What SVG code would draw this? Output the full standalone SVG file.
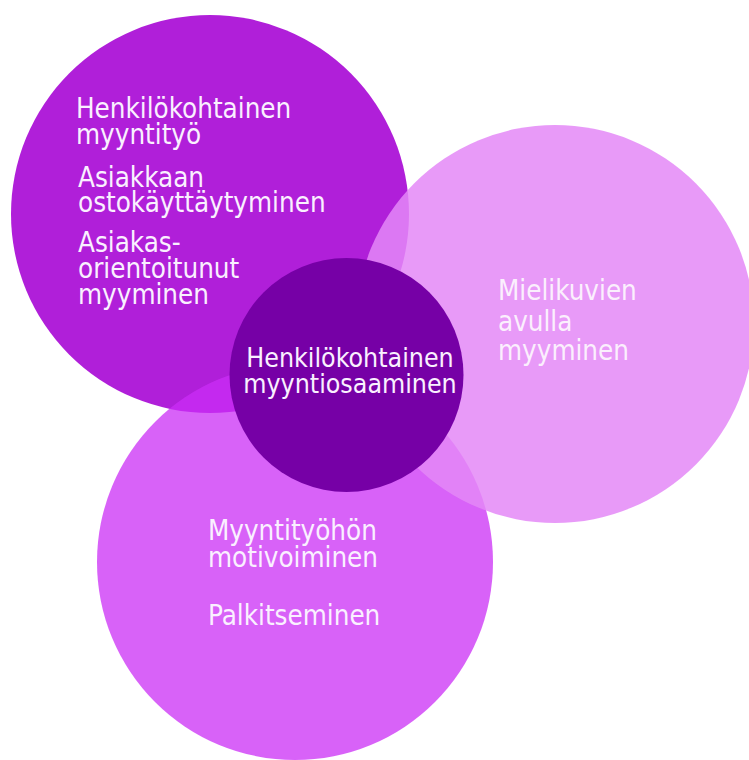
<svg xmlns="http://www.w3.org/2000/svg" width="749" height="760" viewBox="0 0 749 760">
<style>
  .t { font-family: "DejaVu Sans Condensed", "DejaVu Sans", sans-serif; font-stretch: condensed; font-size: 27.5px; fill: #FAF0FF; }
  .tc { font-size: 26.5px; }
  .tr { fill: #FBEFFD; }
</style>
<rect width="749" height="760" fill="#FFFFFF"/>
<g id="node-henkilokohtainen-myyntityo">
  <circle cx="210" cy="214" r="199" fill="#B01FD9"/>
  <text class="t" x="76" y="118">Henkilökohtainen</text>
  <text class="t" x="76" y="144">myyntityö</text>
  <text class="t" x="78" y="187">Asiakkaan</text>
  <text class="t" x="78" y="212">ostokäyttäytyminen</text>
  <text class="t" x="78" y="252">Asiakas-</text>
  <text class="t" x="78" y="278">orientoitunut</text>
  <text class="t" x="78" y="304">myyminen</text>
</g>
<g id="node-motivointi">
  <circle cx="295" cy="562" r="198" fill="#CB2EF6" fill-opacity="0.75"/>
  <text class="t" x="208" y="540">Myyntityöhön</text>
  <text class="t" x="208" y="567">motivoiminen</text>
  <text class="t" x="208" y="625">Palkitseminen</text>
</g>
<g id="node-mielikuvat">
  <circle cx="555" cy="324" r="199" fill="#E488F7" fill-opacity="0.85"/>
  <text class="t tr" x="498" y="300">Mielikuvien</text>
  <text class="t tr" x="498" y="331">avulla</text>
  <text class="t tr" x="498" y="360">myyminen</text>
</g>
<g id="node-center">
  <circle cx="346.5" cy="375" r="117" fill="#7600A6"/>
  <text class="t tc" x="350" y="367" text-anchor="middle">Henkilökohtainen</text>
  <text class="t tc" x="350" y="393" text-anchor="middle">myyntiosaaminen</text>
</g>
<g id="connectors"></g>
</svg>
